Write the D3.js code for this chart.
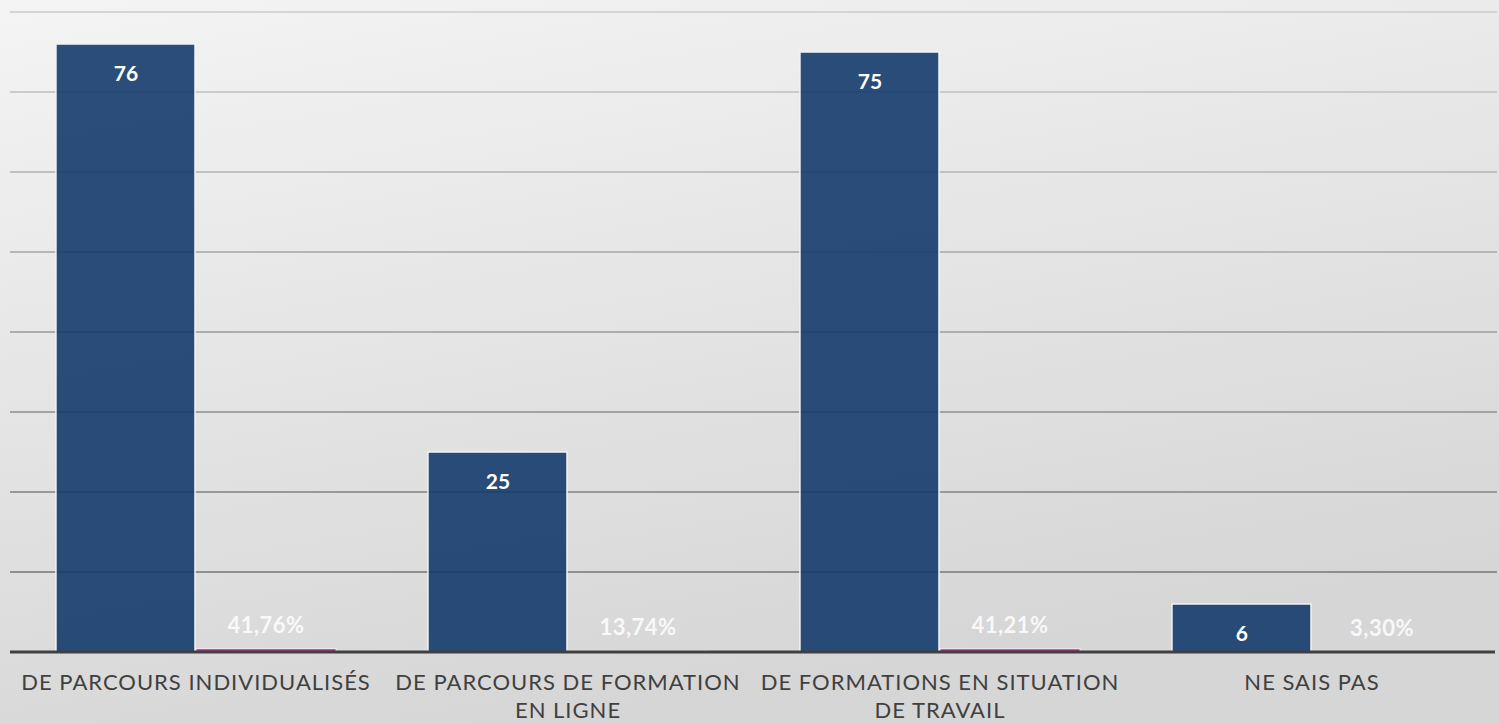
<!DOCTYPE html>
<html>
<head>
<meta charset="utf-8">
<script src="https://cdn.jsdelivr.net/npm/d3@7"></script>
<style>
  html, body { margin: 0; padding: 0; overflow: hidden; }
  #vis svg { display: block; }
</style>
</head>
<body>
<div id="vis"></div>
<script>
const categories = [
  'DE PARCOURS INDIVIDUALISÉS',
  'DE PARCOURS DE FORMATION EN LIGNE',
  'DE FORMATIONS EN SITUATION DE TRAVAIL',
  'NE SAIS PAS'
];
const counts = [76, 25, 75, 6];
const shares = [0.4176, 0.1374, 0.4121, 0.0330];
const yTicks = [0, 10, 20, 30, 40, 50, 60, 70, 80];

const visWidth = 1499;
const visHeight = 724;

const margin = {top: 12, bottom: 72, left: 10, right: 1};
const width = visWidth - margin.left - margin.right;
const height = visHeight - margin.top - margin.bottom;

const fr = d3.formatLocale({decimal: ',', thousands: ' ', grouping: [3], currency: ['', ' €']});
const fmtPct = fr.format('.2%');

const svgRoot = d3.select('#vis').append('svg')
    .attr('width', visWidth)
    .attr('height', visHeight);

const defs = svgRoot.append('defs');
const bg = defs.append('linearGradient')
    .attr('id', 'bg')
    .attr('x1', 0).attr('y1', 0).attr('x2', 0.35).attr('y2', 1);
bg.append('stop').attr('offset', '0%').attr('stop-color', '#f4f4f4');
bg.append('stop').attr('offset', '100%').attr('stop-color', '#d6d6d6');

svgRoot.append('rect')
    .attr('width', visWidth)
    .attr('height', visHeight)
    .attr('fill', 'url(#bg)');

const svg = svgRoot.append('g')
    .attr('transform', `translate(${margin.left}, ${margin.top})`);

const y = d3.scaleLinear()
    .domain([0, 80])
    .range([height, 0]);

const x0 = d3.scaleBand()
    .domain(categories)
    .range([0, width])
    .paddingInner(0.247)
    .paddingOuter(0.1235);

const x1 = d3.scaleBand()
    .domain(['count', 'share'])
    .range([0, x0.bandwidth()]);

const gridColor = d3.scaleLinear()
    .domain([0, 80])
    .range(['#858585', '#d4d4d4']);

// gridlines
svg.append('g')
  .selectAll('line')
  .data(yTicks.slice(1))
  .join('line')
    .attr('x1', 0)
    .attr('x2', width - 1)
    .attr('y1', d => y(d))
    .attr('y2', d => y(d))
    .attr('stroke', d => gridColor(d))
    .attr('stroke-width', 2);

const rows = categories.map((c, i) => ({cat: c, count: counts[i], share: shares[i]}));

const groups = svg.append('g')
  .selectAll('g')
  .data(rows)
  .join('g')
    .attr('transform', d => `translate(${x0(d.cat)}, 0)`);

groups.append('rect')
    .attr('x', x1('count'))
    .attr('width', x1.bandwidth() - 1)
    .attr('y', d => y(d.count))
    .attr('height', d => y(0) - y(d.count))
    .attr('fill', '#11396a')
    .attr('fill-opacity', 0.89)
    .attr('stroke', '#f4f4f4')
    .attr('stroke-width', 1.5);

groups.append('rect')
    .attr('x', x1('share'))
    .attr('width', x1.bandwidth())
    .attr('y', d => y(d.share))
    .attr('height', d => y(0) - y(d.share))
    .attr('fill', '#b8378f')
    .attr('stroke', '#f4f4f4')
    .attr('stroke-width', 1);

groups.append('text')
    .attr('x', x1('count') + x1.bandwidth() / 2)
    .attr('y', d => y(d.count) + 28)
    .attr('text-anchor', 'middle')
    .attr('dominant-baseline', 'central')
    .attr('font-family', 'Lato, "Open Sans", sans-serif')
    .attr('font-weight', 'bold')
    .attr('font-size', 21)
    .attr('fill', '#ffffff')
    .text(d => d.count);

groups.append('text')
    .attr('x', x1('share') + x1.bandwidth() / 2)
    .attr('y', d => y(d.share) - 24)
    .attr('text-anchor', 'middle')
    .attr('dominant-baseline', 'central')
    .attr('font-family', 'Lato, "Open Sans", sans-serif')
    .attr('font-weight', 'bold')
    .attr('font-size', 22)
    .attr('letter-spacing', 0.5)
    .attr('fill', '#ffffff')
    .attr('fill-opacity', 0.85)
    .text(d => fmtPct(d.share));

// x axis
const xAxis = svg.append('g')
    .attr('transform', `translate(0, ${height})`)
    .call(d3.axisBottom(x0).tickSize(0).tickSizeOuter(0).tickPadding(22));

xAxis.select('.domain')
    .attr('stroke', '#404040')
    .attr('stroke-width', 3)
    .attr('d', `M0,0H${width - 3}`);

xAxis.selectAll('.tick text')
    .attr('font-family', 'Lato, "Open Sans", sans-serif')
    .attr('font-size', 22)
    .attr('letter-spacing', 1)
    .attr('fill', '#404040')
    .call(wrap, 362);

function wrap(texts, maxWidth) {
  texts.each(function() {
    const text = d3.select(this);
    const words = text.text().split(/\s+/);
    const yy = text.attr('y');
    text.text(null);
    let line = [];
    let lineNo = 0;
    let tspan = text.append('tspan').attr('x', 0).attr('y', yy).attr('dy', '0.71em');
    for (const w of words) {
      line.push(w);
      tspan.text(line.join(' '));
      if (tspan.node().getComputedTextLength() > maxWidth && line.length > 1) {
        line.pop();
        tspan.text(line.join(' '));
        line = [w];
        lineNo++;
        tspan = text.append('tspan')
            .attr('x', 0)
            .attr('y', yy)
            .attr('dy', `${0.71 + lineNo * 1.27}em`)
            .text(w);
      }
    }
  });
}
</script>
</body>
</html>
